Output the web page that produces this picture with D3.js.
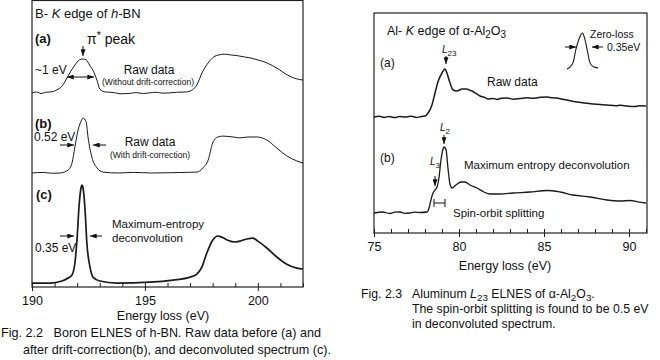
<!DOCTYPE html>
<html>
<head>
<meta charset="utf-8">
<script src="https://cdn.jsdelivr.net/npm/d3@7"></script>
<style>
  body { margin: 0; background: #fff; }
  svg { font-family: "Liberation Sans", Arial, Helvetica, sans-serif; fill: #111; }
  text { white-space: pre; }
  .box { fill: none; stroke: #222; stroke-width: 1.2; }
  .tick text { font-size: 12.5px; }
  .curve { fill: none; stroke: #1a1a1a; }
  .ann { stroke: #111; stroke-width: 1; fill: none; }
</style>
</head>
<body>
<svg id="chart" width="660" height="360"></svg>
<script>
// ---- data (energy eV, intensity arb. units above each curve's baseline) ----
var bnTicks = [190, 195, 200];
var bnMinor = [191, 192, 193, 194, 196, 197, 198, 199, 201, 202];
var bnBaselines = [64.7, 38, 1.3];   // curves a, b, c

var bnRaw = [[190.0,0],[190.2,0.3],[190.4,-0.2],[190.6,0.2],[190.8,0.3],[191.0,0.6],[191.1,1],[191.3,2],[191.5,4.3],[191.7,7],
  [191.9,9.3],[192.1,11],[192.25,11.3],[192.4,11],[192.55,9.3],[192.75,6.7],[192.9,3.7],[193.0,1.3],[193.25,0.3],
  [193.5,0.2],[193.7,0],[193.9,-0.3],[194.3,-0.2],[194.6,0.1],[194.9,-0.2],[195.2,0],[195.5,0.2],[195.8,-0.1],[196.1,0],
  [196.4,0.2],[196.8,0.3],[197.1,1],[197.3,2.7],[197.55,7],[197.8,10],[198.05,12],[198.3,12.7],[198.5,12.9],[198.75,12.7],
  [199.1,12.4],[199.4,12],[199.7,11.6],[200.0,11],[200.4,10],[200.9,8],[201.3,6],[201.7,4.7],[202.0,4.3]];

var bnDrift = [[190.0,0],[190.5,0.2],[190.9,-0.1],[191.25,0],[191.6,1],[191.77,3.3],[191.9,8.7],[192.04,14.3],[192.2,17.7],
  [192.26,18.3],[192.4,17],[192.48,12],[192.65,5.3],[192.88,1.7],[193.15,0.3],[193.8,0],[194.5,0.2],[195.3,0],[196.2,0.1],
  [196.8,0.2],[197.3,0.3],[197.57,1.7],[197.8,4.3],[198.0,10],[198.23,12],[198.45,12.3],[198.9,12],[199.2,11.7],
  [199.56,12],[199.96,12],[200.4,11],[200.84,8.3],[201.28,5.7],[201.73,4],[202.0,3.3]];

var bnMaxEnt = [[190.0,0],[190.8,0],[191.33,0.7],[191.6,1.7],[191.77,2.7],[191.9,6.7],[192.0,15.3],[192.08,25.3],[192.17,31.7],
  [192.21,32.7],[192.26,31.7],[192.35,24.3],[192.43,13.3],[192.57,5.3],[192.7,2],[193.0,0.7],[193.76,0],[195.22,0.3],
  [196.24,1],[197.0,2],[197.3,3],[197.52,5.3],[197.74,10],[198.0,14.3],[198.23,15.7],[198.41,15.3],[198.67,14.3],
  [198.98,13.7],[199.2,14],[199.51,14.7],[199.78,15],[200.0,14],[200.4,11.7],[200.84,8.7],[201.28,6.3],[201.73,5],[202.0,4.7]];

var alTicks = [75, 80, 85, 90];
var alMinor = [76, 77, 78, 79, 81, 82, 83, 84, 86, 87, 88, 89, 91];
var alBaselines = [58, 10];   // curves a, b

var alRaw = [[75.0,0],[75.3,0.4],[75.6,-0.2],[75.9,0.3],[76.2,-0.3],[76.5,0.2],[76.9,0],[77.2,0.4],[77.5,-0.2],[77.8,0.3],
  [78.0,0.5],[78.18,2],[78.41,6],[78.59,12],[78.76,17.5],[79.0,22],[79.18,24],[79.29,22],[79.47,17],[79.65,13.5],[79.88,13],
  [80.18,14],[80.41,14],[80.76,13],[81.0,11.8],[81.24,10.5],[81.5,9.8],[81.71,9],[82.0,9.3],[82.24,8.8],[82.5,9.4],[82.82,9.5],
  [83.2,8.9],[83.59,9.2],[84.0,9.6],[84.35,9.4],[84.8,9.9],[85.18,10],[85.5,9.6],[85.76,9.5],[86.0,9.0],[86.35,8.5],[86.6,8.0],
  [86.94,7.5],[87.4,7.0],[87.88,6.5],[88.3,6.3],[88.71,6],[89.2,5.6],[89.5,5.9],[89.88,5.5],[90.3,5.2],[90.6,5.6],[91.0,5.5]];

var alMaxEnt = [[75.0,0],[75.5,0.5],[75.94,-0.25],[76.2,0.4],[76.53,0.5],[76.8,-0.2],[77.12,0],[77.4,0.4],[77.71,0.25],[78.12,0.5],
  [78.24,2.5],[78.35,6.5],[78.47,10],[78.59,11.5],[78.71,13],[78.82,17.5],[78.94,26.5],[79.06,32],[79.12,33],[79.24,31.5],
  [79.35,22.5],[79.47,14.5],[79.59,12.5],[79.82,14],[80.12,15.5],[80.35,15.5],[80.65,14],[81.06,12.5],[81.47,10.5],
  [81.82,9.5],[82.41,9.5],[83.18,10],[84.18,10.5],[85.18,11.25],[85.94,10.5],[86.71,9],[87.71,8],[88.71,6.5],[89.47,6],
  [90.06,6.25],[90.5,5.6],[91.0,5]];

// zero-loss inset (eV relative to peak, normalised intensity)
var zeroLoss = [[-0.3,0],[-0.24,0.06],[-0.18,0.19],[-0.13,0.53],[-0.06,0.86],[0,1],[0.04,0.86],[0.1,0.47],[0.14,0.19],[0.21,0.06],[0.3,0.03]];

var svg = d3.select("#chart");

svg.append("defs").append("marker")
  .attr("id", "head")
  .attr("viewBox", "0 0 8 6")
  .attr("refX", 8).attr("refY", 3)
  .attr("markerWidth", 7).attr("markerHeight", 5)
  .attr("markerUnits", "userSpaceOnUse")
  .attr("orient", "auto-start-reverse")
  .append("path").attr("d", "M0,0L8,3L0,6Z").attr("fill", "#111");

function arrow(x1, y1, x2, y2, both) {
  var l = svg.append("line").attr("class", "ann")
    .attr("x1", x1).attr("y1", y1).attr("x2", x2).attr("y2", y2)
    .attr("marker-end", "url(#head)");
  if (both) l.attr("marker-start", "url(#head)");
}

function label(x, y, parts, size, anchor) {
  var t = svg.append("text").attr("x", x).attr("y", y)
    .attr("font-size", size).attr("text-anchor", anchor || "start");
  parts.forEach(function (p) {
    if (typeof p === "string") { t.append("tspan").text(p); return; }
    var s = t.append("tspan").text(p.t);
    if (p.i) s.attr("font-style", "italic");
    if (p.b) s.attr("font-weight", "bold");
    if (p.sub) s.attr("font-size", size * 0.8).attr("dy", 3);
    if (p.up) s.attr("dy", p.up);
    if (p.sup) s.attr("font-size", size * 0.75).attr("dy", -5);
  });
  return t;
}

// box, axis with major (crossing) and minor (inward) ticks, axis title
function drawAxes(x, left, right, top, bottom, majors, minors, titleX, titleY) {
  svg.append("rect").attr("class", "box")
    .attr("x", left).attr("y", top).attr("width", right - left).attr("height", bottom - top);

  svg.append("g")
    .attr("transform", "translate(0," + bottom + ")")
    .call(d3.axisBottom(x).tickValues(majors).tickSize(4).tickSizeOuter(0).tickPadding(5))
    .call(function (g) { g.select(".domain").remove(); });

  svg.append("g")
    .attr("transform", "translate(0," + bottom + ")")
    .call(d3.axisBottom(x).tickValues(majors.concat(minors)).tickSize(-4).tickSizeOuter(0).tickFormat(""))
    .call(function (g) { g.select(".domain").remove(); });

  svg.selectAll(".tick line").attr("stroke", "#222");
  svg.selectAll(".tick text").attr("fill", "#111").attr("font-family", null);

  label(titleX, titleY, ["Energy loss (eV)"], 12.5, "middle");
}

function drawCurve(x, y, data, base, width) {
  var line = d3.line()
    .x(function (d) { return x(d[0]); })
    .y(function (d) { return y(base + d[1]); })
    .curve(d3.curveMonotoneX);
  svg.append("path").attr("class", "curve").attr("d", line(data)).attr("stroke-width", width);
}

// ---------- left panel: B K edge of h-BN ----------
var bnX = d3.scaleLinear().domain([190, 202]).range([32, 303]);
var bnY = d3.scaleLinear().domain([0, 95.33]).range([287, 1]);

drawAxes(bnX, 32, 303, 0.5, 287, bnTicks, bnMinor, 163, 320);
drawCurve(bnX, bnY, bnRaw, bnBaselines[0], 1);
drawCurve(bnX, bnY, bnDrift, bnBaselines[1], 1);
drawCurve(bnX, bnY, bnMaxEnt, bnBaselines[2], 1.7);

label(35, 18, ["B- ", { t: "K", i: 1 }, " edge of ", { t: "h", i: 1 }, "-BN"], 13);
label(35, 43, [{ t: "(a)", b: 1 }], 13);
label(87, 44, ["\u03c0", { t: "*", sup: 1 }, { t: " peak", up: 5 }], 14);
arrow(83, 46, 83, 56);
label(35, 74, ["~1 eV"], 12);
arrow(67, 77, 94, 77, true);
label(149, 74, ["Raw data"], 12, "middle");
label(148, 85, ["(Without drift-correction)"], 8.6, "middle");

label(35, 128, [{ t: "(b)", b: 1 }], 13);
label(34, 141, ["0.52 eV"], 12);
arrow(60, 145, 74, 145);
arrow(106, 145, 93, 145);
label(150, 146, ["Raw data"], 12, "middle");
label(150, 158, ["(With drift-correction)"], 8.6, "middle");

label(36, 199, [{ t: "(c)", b: 1 }], 13);
label(35, 252, ["0.35 eV"], 12);
arrow(60, 236, 74, 236);
arrow(102, 236, 90, 236);
label(112, 228, ["Maximum-entropy"], 11.5);
label(112, 242, ["deconvolution"], 11.5);

label(1, 337, ["Fig. 2.2   Boron ELNES of h-BN. Raw data before (a) and"], 12.6);
label(23, 354, ["after drift-correction(b), and deconvoluted spectrum (c)."], 12.6);

// ---------- right panel: Al L23 edge of alpha-Al2O3 ----------
var alX = d3.scaleLinear().domain([75, 91]).range([374, 646]);
var alY = d3.scaleLinear().domain([0, 110]).range([233, 13]);

drawAxes(alX, 374, 647, 13, 233, alTicks, alMinor, 505, 270);
drawCurve(alX, alY, alRaw, alBaselines[0], 1.5);
drawCurve(alX, alY, alMaxEnt, alBaselines[1], 1.3);

label(387, 35, ["Al- ", { t: "K", i: 1 }, " edge of \u03b1-Al", { t: "2", sub: 1 }, { t: "O", up: -3 }, { t: "3", sub: 1 }], 12.5);

// zero-loss inset
var insetX = d3.scaleLinear().domain([-0.3, 0.3]).range([567, 598]);
var insetY = d3.scaleLinear().domain([0, 1]).range([69, 33]);
svg.append("path").attr("class", "curve").attr("stroke-width", 1.1)
  .attr("d", d3.line().x(function (d) { return insetX(d[0]); }).y(function (d) { return insetY(d[1]); })
    .curve(d3.curveMonotoneX)(zeroLoss));
label(590, 38, ["Zero-loss"], 10.5);
label(607, 51, ["0.35eV"], 10.5);
arrow(565, 47, 576, 47);
arrow(603, 47, 592, 47);

label(380, 67, ["(a)"], 12);
label(442, 53, [{ t: "L", i: 1 }, { t: "23", sub: 1 }], 10);
arrow(446, 56, 446, 64);
label(487, 86, ["Raw data"], 12);

label(380, 162, ["(b)"], 12);
label(440, 131, [{ t: "L", i: 1 }, { t: "2", sub: 1 }], 10);
arrow(444, 135, 444, 144);
label(430, 165, [{ t: "L", i: 1 }, { t: "3", sub: 1 }], 10);
arrow(435, 176, 435, 186);
label(464, 169, ["Maximum entropy deconvolution"], 11.5);

// spin-orbit bar
svg.append("path").attr("class", "ann")
  .attr("d", "M434,199V207M434,203H445M445,199V207");
label(453, 217, ["Spin-orbit splitting"], 11.5);

label(361, 298, ["Fig. 2.3"], 12.3);
label(412, 298, ["Aluminum ", { t: "L", i: 1 }, { t: "23", sub: 1 }, { t: " ELNES of \u03b1-Al", up: -3 }, { t: "2", sub: 1 }, { t: "O", up: -3 }, { t: "3", sub: 1 }, { t: ".", up: -3 }], 12.3);
label(412, 313, ["The spin-orbit splitting is found to be 0.5 eV"], 12.3);
label(412, 328, ["in deconvoluted spectrum."], 12.3);
</script>
</body>
</html>
